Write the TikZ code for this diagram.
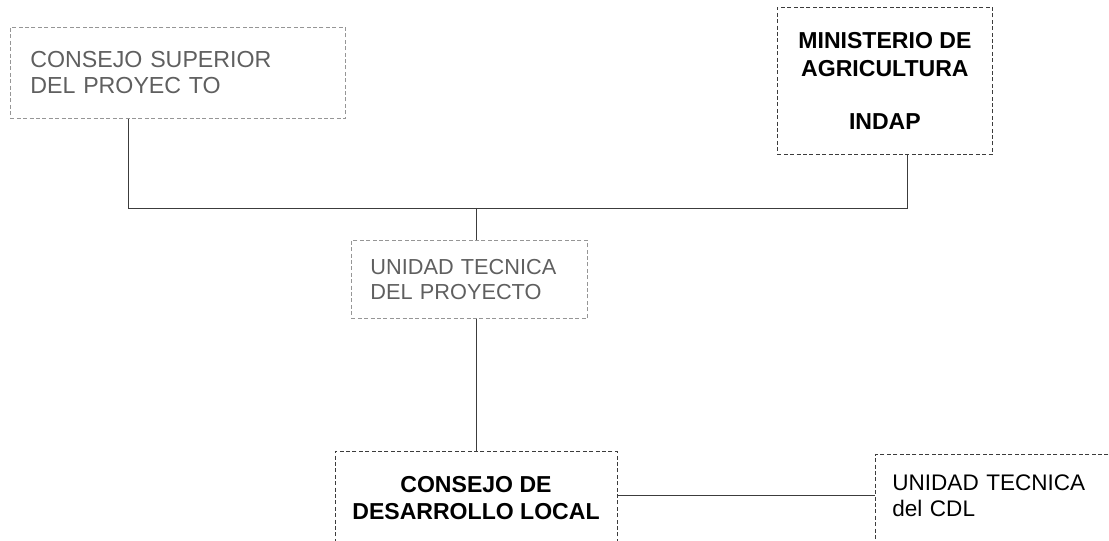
\documentclass[tikz,border=0pt]{standalone}
\usepackage{fontspec}
\setmainfont{Liberation Sans}

\definecolor{paleline}{RGB}{150,150,150}
\definecolor{paletext}{RGB}{95,95,95}
\definecolor{darkline}{RGB}{60,60,60}

\tikzset{every picture/.style={line width=0.75pt}}
\tikzset{
  orgbox/.style={draw=darkline, line width=0.6pt, dash pattern={on 3pt off 1.8pt}, rectangle, inner ysep=0pt},
  palebox/.style={orgbox, draw=paleline, text=paletext},
  link/.style={draw=darkline, line width=0.6pt},
}

\begin{document}
\begin{tikzpicture}[x=0.75pt,y=0.75pt,yscale=-1,xscale=1]
\useasboundingbox (0,0) rectangle (1109,541);
\clip (0,0) rectangle (1109,541);

% Text Node
\node (sup) [palebox, anchor=north west, inner xsep=15pt, text width=221.25pt, minimum height=68.25pt, align=left, font=\fontsize{17.4}{19.5}\selectfont] at (10,27) {CONSEJO SUPERIOR\\DEL PROYEC TO};
% Text Node
\node (min) [orgbox, anchor=north west, minimum width=161.25pt, minimum height=110.25pt, align=center, font=\bfseries\fontsize{17.3}{21}\selectfont] at (777,7) {MINISTERIO DE\\AGRICULTURA\\[19pt]INDAP};
% Text Node
\node (utp) [palebox, anchor=north west, inner xsep=14.25pt, text width=148.5pt, minimum height=58.5pt, align=left, font=\fontsize{16.3}{18.8}\selectfont] at (351,240) {UNIDAD TECNICA\\DEL PROYECTO};
% Text Node
\node (cdl) [orgbox, anchor=north, minimum width=211.5pt, inner ysep=19pt, text depth=70pt, align=center, font=\bfseries\fontsize{17.3}{20.2}\selectfont] at (476,451) {CONSEJO DE\\DESARROLLO LOCAL};
% Text Node
\node (ucdl) [orgbox, anchor=north west, inner xsep=12.75pt, text width=210pt, inner ysep=15pt, text depth=70pt, align=left, font=\fontsize{16.9}{20}\selectfont] at (875,454) {UNIDAD TECNICA\\del CDL};

% junctions
\coordinate (jl) at (128,208);
\coordinate (jr) at (907,208);
\coordinate (jm) at (476,208);

%Straight Lines
\draw [link] (sup.south -| jl) -- (jl) -- (jr) -- (min.south -| jr);
%Straight Lines
\draw [link] (jm) -- (utp.north -| jm);
%Straight Lines
\draw [link] (utp.south -| cdl.north) -- (cdl.north);
%Straight Lines
\draw [link] (cdl.east |- 0,495) -- (ucdl.west |- 0,495);

\end{tikzpicture}
\end{document}
